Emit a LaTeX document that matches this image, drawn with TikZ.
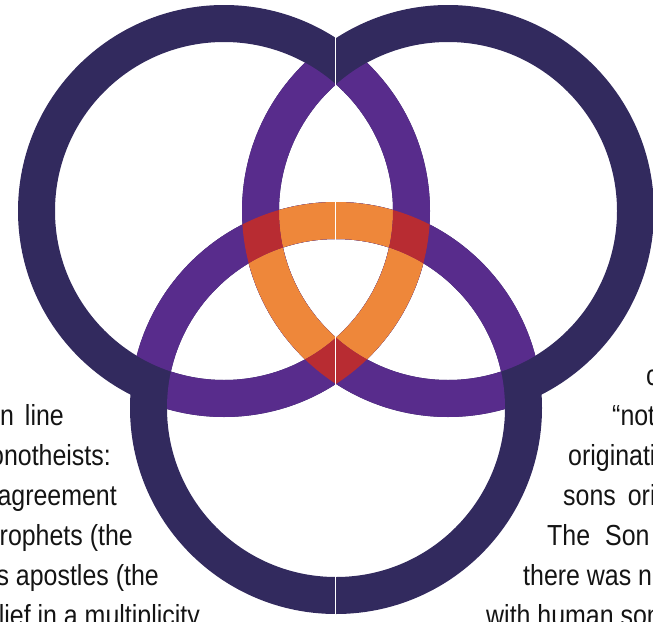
\documentclass[tikz,border=0pt]{standalone}
\usepackage{fontspec}
\newfontfamily\condfont{Liberation Sans}[FakeStretch=0.86]
\usepackage{tikz}

\definecolor{ringdark}{RGB}{50,42,94}
\definecolor{ringpurple}{RGB}{88,44,140}
\definecolor{ringorange}{RGB}{238,135,58}
\definecolor{ringred}{RGB}{184,44,50}

\tikzset{
  txt/.style={font=\condfont\fontsize{29}{40}\selectfont,inner sep=0pt,text=black!92},
  band/.style={even odd rule}
}

\begin{document}
\begin{tikzpicture}[x=1pt,y=-1pt,line cap=round,line join=round]

% raios dos aneis
\def\rout{206}   % raio externo
\def\rin{169}    % raio interno

\useasboundingbox (0,0) rectangle (653,621);
\clip (0,0) rectangle (653,621);

% centros
\coordinate (tl) at (224,211);
\coordinate (tr) at (448,211);
\coordinate (bo) at (336,408);

%---------------------------
% aneis escuros
%---------------------------
\foreach \c in {tl,tr,bo}
  \fill[ringdark,band] (\c) circle[radius=\rout] (\c) circle[radius=\rin];

%---------------------------
% partes dentro de um outro anel
%---------------------------
\foreach \a/\b in {tl/tr,tl/bo,tr/tl,tr/bo,bo/tl,bo/tr}{
  \begin{scope}
    \clip (\b) circle[radius=\rin];
    \fill[ringpurple,band] (\a) circle[radius=\rout] (\a) circle[radius=\rin];
  \end{scope}
}

%---------------------------
% partes dentro dos outros dois
%---------------------------
\foreach \a/\b/\c in {tl/tr/bo,tr/tl/bo,bo/tl/tr}{
  \begin{scope}
    \clip (\b) circle[radius=\rin];
    \clip (\c) circle[radius=\rin];
    \fill[ringorange,band] (\a) circle[radius=\rout] (\a) circle[radius=\rin];
  \end{scope}
}

%---------------------------
% cruzamentos internos
%---------------------------
\foreach \a/\b/\c in {tl/tr/bo,tl/bo/tr,tr/bo/tl}{
  \begin{scope}[band]
    \clip (\a) circle[radius=\rout] (\a) circle[radius=\rin];
    \clip (\c) circle[radius=\rin];
    \fill[ringred] (\b) circle[radius=\rout] (\b) circle[radius=\rin];
  \end{scope}
}

% dobra da pagina
\draw[white,line width=0.8] (335.5,0) -- (335.5,621);

%---------------------------
% texto da esquerda
%---------------------------
\node[txt,anchor=base east] (l1) at (64,425) {n\hspace{11pt}line};
\node[txt,anchor=base east] (l2) at (111,465) {onotheists:};
\node[txt,anchor=base east] (l3) at (117,505) {agreement};
\node[txt,anchor=base east] (l4) at (133,545) {rophets (the};
\node[txt,anchor=base east] (l5) at (159,585) {s apostles (the};
\node[txt,anchor=base east] (l6) at (200,625) {lief in a multiplicity};

%---------------------------
% texto da direita
%---------------------------
\node[txt,anchor=base west] (r1) at (646,385) {c};
\node[txt,anchor=base west] (r2) at (612,425) {“not};
\node[txt,anchor=base west] (r3) at (568,465) {originati};
\node[txt,anchor=base west] (r4) at (563,505) {sons\hspace{12pt}ori};
\node[txt,anchor=base west] (r5) at (547,545) {The\hspace{15pt}Son};
\node[txt,anchor=base west] (r6) at (523,585) {there was ne};
\node[txt,anchor=base west] (r7) at (486,625) {with human son};

\end{tikzpicture}
\end{document}
